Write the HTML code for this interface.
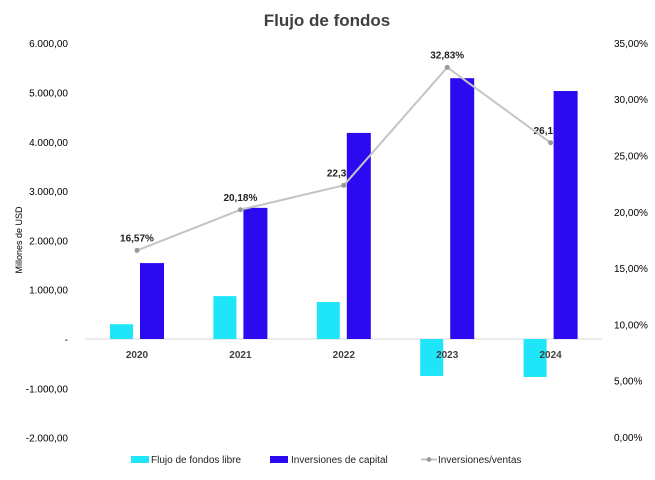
<!DOCTYPE html>
<html><head><meta charset="utf-8"><style>
body{margin:0;background:#fff;font-family:"Liberation Sans",sans-serif}
svg text{font-family:"Liberation Sans",sans-serif}
</style></head><body>
<svg id="c" width="655" height="475" xmlns="http://www.w3.org/2000/svg"></svg>
<script>
const categories=["2020","2021","2022","2023","2024"];
const fcfValues=[300,870,750,-750,-770];
const capexValues=[1540,2660,4180,5290,5030];
const ratioValues=[16.57,20.18,22.35,32.83,26.13];
const ratioLabels=["16,57%","20,18%","22,35%","32,83%","26,13%"];
const leftTicks=[6000,5000,4000,3000,2000,1000,0,-1000,-2000];
const leftTickLabels=["6.000,00","5.000,00","4.000,00","3.000,00","2.000,00","1.000,00","-","-1.000,00","-2.000,00"];
const rightTicks=[35,30,25,20,15,10,5,0];
const rightTickLabels=["35,00%","30,00%","25,00%","20,00%","15,00%","10,00%","5,00%","0,00%"];

const svg=document.getElementById('c');
const NS="http://www.w3.org/2000/svg";
function yL(v){return 339-v*0.0493;}
function yR(v){return 437-v*11.26;}
function xC(i){return 137+i*103.4;}
function mk(tag,attrs,parent){const e=document.createElementNS(NS,tag);for(const k in attrs)e.setAttribute(k,attrs[k]);(parent||svg).appendChild(e);return e;}

let t=mk('text',{x:327,y:26,'text-anchor':'middle','font-size':17,'font-weight':'bold',fill:'#404040'});t.textContent="Flujo de fondos";



leftTicks.forEach((v,i)=>{const e=mk('text',{x:68,y:yL(v)+4,'text-anchor':'end','font-size':10,fill:'#000'});e.textContent=leftTickLabels[i];

});
rightTicks.forEach((v,i)=>{const e=mk('text',{x:614,y:yR(v)+4,'font-size':10,fill:'#000'});e.textContent=rightTickLabels[i];

});
let yt=mk('text',{x:22,y:240,'text-anchor':'middle','font-size':9,fill:'#000',transform:'rotate(-90 22 240)'});yt.textContent="Millones de USD";



let ax=mk('line',{x1:85,x2:602,y1:yL(0),y2:yL(0),stroke:'#d9d9d9','stroke-width':1});



ratioValues.forEach((v,i)=>{const e=mk('text',{x:xC(i),y:yR(v)-9,'text-anchor':'middle','font-size':10,'font-weight':'bold',fill:'#222'});e.textContent=ratioLabels[i];

});

categories.forEach((c,i)=>{
 const v1=fcfValues[i],v2=capexValues[i];
 let r=mk('rect',{x:xC(i)-27,width:23,y:Math.min(yL(v1),yL(0)),height:Math.abs(yL(v1)-yL(0)),fill:'#1fe5f8'});
 
 
 let r2=mk('rect',{x:xC(i)+3,width:24,y:Math.min(yL(v2),yL(0)),height:Math.abs(yL(v2)-yL(0)),fill:'#2b0af2'});
 
 
});
categories.forEach((c,i)=>{
 let l=mk('text',{x:xC(i),y:358,'text-anchor':'middle','font-size':10,'font-weight':'bold',fill:'#404040'});l.textContent=c;
 
 
});

let pts=ratioValues.map((v,i)=>xC(i)+','+yR(v)).join(' ');
let pl=mk('polyline',{points:pts,fill:'none',stroke:'#c4c4c4','stroke-width':2});


ratioValues.forEach((v,i)=>{let p=mk('circle',{cx:xC(i),cy:yR(v),r:2.5,fill:'#9a9a9a'});

});

let g=mk('g',{});


let a=mk('rect',{x:131,y:456,width:18,height:7,fill:'#1fe5f8'},g);


let at=mk('text',{x:151,y:463,'font-size':10,fill:'#222'},g);at.textContent="Flujo de fondos libre";


let b=mk('rect',{x:270,y:456,width:18,height:7,fill:'#2b0af2'},g);


let bt=mk('text',{x:291,y:463,'font-size':10,fill:'#222'},g);bt.textContent="Inversiones de capital";


let cl=mk('line',{x1:421,x2:437,y1:459.5,y2:459.5,stroke:'#c4c4c4','stroke-width':2},g);


let cc=mk('circle',{cx:429,cy:459.5,r:2.3,fill:'#9a9a9a'},g);


let ct=mk('text',{x:438,y:463,'font-size':10,fill:'#222'},g);ct.textContent="Inversiones/ventas";


</script>
</body></html>
